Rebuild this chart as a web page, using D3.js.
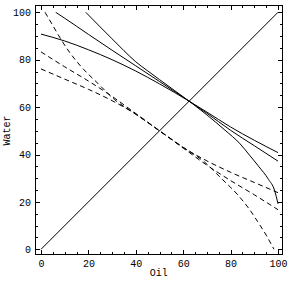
<!DOCTYPE html>
<html>
<head>
<meta charset="utf-8">
<script src="https://cdn.jsdelivr.net/npm/d3@7"></script>
<style>
  body { margin: 0; background: #fff; }
  svg { display: block; }
</style>
</head>
<body>
<div id="chart"></div>
<script>
// --- DATA (Oil %, Water %) ---
const diagonal = [[0, 0], [100, 100]];

const solidA = [[0, 90.8], [10, 87.9], [20, 84.2], [30, 80], [40, 75.2], [50, 69.8],
  [62.5, 62.5], [70, 57.9], [80, 51.6], [90, 46], [100, 40.8]];
const solidB = [[6.2, 100], [10, 97.5], [20, 90.7], [30, 84], [40, 77.4], [50, 70.8],
  [62.5, 62.5], [70, 57.4], [80, 50.2], [90, 43.7], [100, 37.2]];
const solidC = [[18.9, 100], [25, 93.8], [30, 88.8], [35, 83.8], [40, 79.1], [45, 75.3],
  [50, 71.6], [62.5, 62.5], [70, 56.7], [77.6, 50.3], [84, 44.5], [88, 39.7], [92, 34.8],
  [96, 29.5], [98.5, 25], [100, 19.2]];

const dashed1 = [[1.7, 100], [5, 94.4], [8.6, 88.3], [12, 83.2], [17, 77], [24, 70], [31, 63.2],
  [40, 57], [50, 50], [60, 43], [69, 36.8], [76, 30], [83, 23], [88, 16.8], [91.4, 11.7],
  [95, 6], [98.3, 0]];
const dashed2 = [[0, 83.3], [10, 77], [20, 71], [30, 64.5], [40, 57.3], [50, 50], [60, 42.7],
  [70, 35.5], [80, 29], [90, 23], [100, 16.7]];
const dashed3 = [[0, 76.1], [10, 71.8], [20, 67.5], [30, 62.7], [40, 57], [50, 50], [60, 43],
  [70, 37.3], [80, 32.5], [90, 28.2], [100, 23.9]];

const majorTicks = [0, 20, 40, 60, 80, 100];
const minorTicks = [5, 10, 15, 25, 30, 35, 45, 50, 55, 65, 70, 75, 85, 90, 95];
const xLabel = "Oil";
const yLabel = "Water";

// --- LAYOUT ---
const size = 288;
const font = "'Liberation Mono', 'DejaVu Sans Mono', monospace";

const x = d3.scaleLinear().domain([0, 100]).range([41, 278]);
const y = d3.scaleLinear().domain([0, 100]).range([249.3, 12.3]);

// frame extends a little beyond the plot range
const fx0 = x(-2.5), fx1 = x(101.8);
const fy0 = y(-2.4), fy1 = y(102.7);

const svg = d3.select("#chart").append("svg")
  .attr("width", size)
  .attr("height", size)
  .attr("font-family", font);

// clip to the data range
svg.append("clipPath").attr("id", "clip")
  .append("rect")
  .attr("x", x(0) - 1).attr("y", y(100) - 0.5)
  .attr("width", x(100) - x(0) + 2).attr("height", y(0) - y(100) + 1);

// --- AXES (ticks inward on all four sides) ---
function axisGroup(axis, tx, ty) {
  const g = svg.append("g")
    .attr("transform", `translate(${tx},${ty})`)
    .call(axis);
  g.select(".domain").remove();
  g.selectAll("line")
    .attr("stroke", "#000")
    .attr("stroke-width", 1)
    .attr("shape-rendering", "crispEdges");
  g.selectAll("text").attr("font-family", font).attr("font-size", 10).attr("fill", "#000");
  return g;
}

axisGroup(d3.axisBottom(x).tickValues(majorTicks).tickSize(-4.5).tickPadding(4.5), 0, fy0);
axisGroup(d3.axisBottom(x).tickValues(minorTicks).tickSize(-2.5).tickFormat(""), 0, fy0);
axisGroup(d3.axisTop(x).tickValues(majorTicks).tickSize(-4.5).tickFormat(""), 0, fy1);
axisGroup(d3.axisTop(x).tickValues(minorTicks).tickSize(-2.5).tickFormat(""), 0, fy1);

axisGroup(d3.axisLeft(y).tickValues(majorTicks).tickSize(-4.5).tickPadding(4), fx0, 0);
axisGroup(d3.axisLeft(y).tickValues(minorTicks).tickSize(-2.5).tickFormat(""), fx0, 0);
axisGroup(d3.axisRight(y).tickValues(majorTicks).tickSize(-4.5).tickFormat(""), fx1, 0);
axisGroup(d3.axisRight(y).tickValues(minorTicks).tickSize(-2.5).tickFormat(""), fx1, 0);

// frame
svg.append("rect")
  .attr("x", fx0).attr("y", fy1)
  .attr("width", fx1 - fx0).attr("height", fy0 - fy1)
  .attr("fill", "none")
  .attr("stroke", "#000")
  .attr("stroke-width", 1)
  .attr("shape-rendering", "crispEdges");

// axis labels
svg.append("text")
  .attr("x", (fx0 + fx1) / 2)
  .attr("y", 276)
  .attr("text-anchor", "middle")
  .attr("font-size", 10)
  .text(xLabel);

svg.append("text")
  .attr("transform", `translate(10,${(fy0 + fy1) / 2}) rotate(-90)`)
  .attr("text-anchor", "middle")
  .attr("font-size", 10)
  .text(yLabel);

// --- CURVES ---
const line = d3.line()
  .x(d => x(d[0]))
  .y(d => y(d[1]))
  .curve(d3.curveMonotoneX);

const series = [
  { data: diagonal, dash: null },
  { data: solidA, dash: null },
  { data: solidB, dash: null },
  { data: solidC, dash: null },
  { data: dashed1, dash: "5,3.5" },
  { data: dashed2, dash: "5,3.5" },
  { data: dashed3, dash: "5,3.5" }
];

svg.append("g")
  .attr("clip-path", "url(#clip)")
  .selectAll("path")
  .data(series)
  .join("path")
  .attr("fill", "none")
  .attr("stroke", "#000")
  .attr("stroke-width", 1)
  .attr("stroke-dasharray", d => d.dash)
  .attr("d", d => line(d.data));
</script>
</body>
</html>
